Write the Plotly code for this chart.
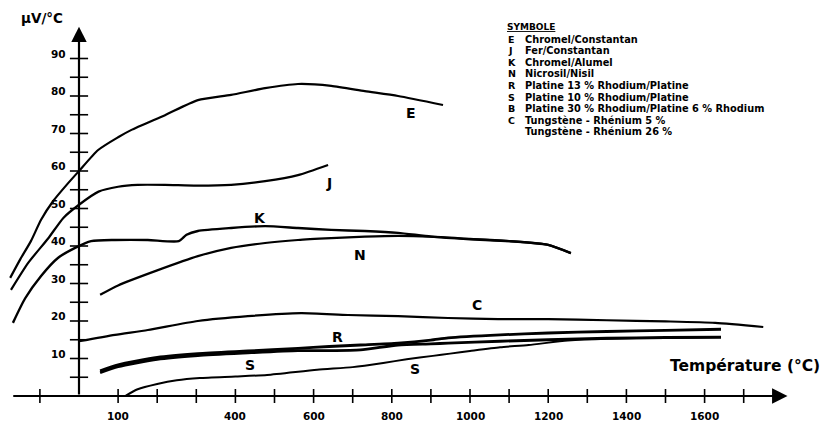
import plotly.graph_objects as go

# ---------------- data ----------------
E_T = [-176, -150, -123, -97, -66, -30, 0, 49, 100, 133, 220, 304, 389, 476, 560, 645, 731, 816, 931]
E_V = [31.5, 36.5, 41.3, 47.0, 52.0, 56.5, 60.0, 65.6, 69.0, 70.9, 74.9, 78.9, 80.3, 82.1, 83.2, 82.7, 81.3, 80.0, 77.6]

J_T = [-174, -130, -79, -40, 0, 50, 100, 150, 220, 300, 389, 476, 560, 637]
J_V = [28.3, 35.5, 42.0, 47.5, 51.0, 54.5, 55.8, 56.3, 56.3, 56.1, 56.3, 57.3, 58.9, 61.6]

K_T = [-169, -138, -97, -54, -10, 31, 92, 176, 255, 275, 304, 389, 476, 560, 645, 731, 816, 900, 1000, 1100, 1200, 1258]
K_V = [19.5, 26.0, 32.0, 36.8, 39.5, 41.3, 41.6, 41.6, 41.3, 43.0, 44.0, 44.8, 45.3, 44.8, 44.3, 44.0, 43.5, 42.5, 41.8, 41.3, 40.3, 38.1]

N_T = [54, 100, 200, 304, 389, 476, 560, 645, 731, 816, 900, 1000, 1100, 1200, 1258]
N_V = [27.0, 29.5, 33.5, 37.3, 39.5, 40.8, 41.6, 42.1, 42.5, 42.7, 42.5, 41.9, 41.3, 40.3, 38.1]

C_T = [0, 92, 176, 304, 432, 568, 688, 816, 944, 1072, 1200, 1350, 1500, 1627, 1750]
C_V = [14.6, 16.3, 17.6, 20.0, 21.3, 22.1, 21.6, 21.3, 20.8, 20.5, 20.5, 20.2, 19.9, 19.5, 18.4]

R_T = [54, 100, 200, 304, 432, 560, 640, 720, 816, 900, 944, 1077, 1200, 1350, 1500, 1642]
R_V = [6.7, 8.3, 10.3, 11.3, 12.0, 12.7, 13.2, 13.6, 14.1, 14.9, 15.5, 16.3, 16.8, 17.2, 17.5, 17.8]

S_T = [54, 100, 200, 304, 432, 560, 640, 720, 816, 900, 944, 1077, 1200, 1350, 1500, 1642]
S_V = [6.2, 7.8, 9.8, 10.8, 11.5, 12.1, 12.1, 12.3, 13.6, 13.9, 14.1, 14.6, 15.0, 15.4, 15.6, 15.7]

B_T = [118, 150, 200, 250, 309, 400, 481, 609, 700, 778, 838, 905, 949, 1000, 1077, 1150, 1250, 1350, 1500, 1642]
B_V = [0.0, 1.8, 3.2, 4.2, 4.8, 5.2, 5.6, 7.0, 7.7, 8.8, 9.8, 10.7, 11.3, 12.0, 13.0, 13.6, 14.8, 15.3, 15.5, 15.6]

X_TICKS = [-100, 100, 200, 300, 400, 500, 600, 700, 800, 900, 1000, 1100, 1200, 1300, 1400, 1500, 1600, 1700]
X_LABELS = [100, 400, 600, 800, 1000, 1200, 1400, 1600]
Y_TICKS = [5, 10, 15, 20, 25, 30, 35, 40, 45, 50, 55, 60, 65, 70, 75, 80, 85, 90]
Y_LABELS = [10, 20, 30, 40, 50, 60, 70, 80, 90]

LEGEND_SYMBOLS = ["E", "J", "K", "N", "R", "S", "B", "C", ""]
LEGEND_NAMES = [
    "Chromel/Constantan",
    "Fer/Constantan",
    "Chromel/Alumel",
    "Nicrosil/Nisil",
    "Platine 13 % Rhodium/Platine",
    "Platine 10 % Rhodium/Platine",
    "Platine 30 % Rhodium/Platine 6 % Rhodium",
    "Tungstène - Rhénium 5 %",
    "Tungstène - Rhénium 26 %",
]

# ---------------- figure ----------------
W, H = 827, 425
X0PX, XPX = 79, 0.391     # pixel of 0 °C, px per °C
Y0PX, YPX = 396, 3.75     # pixel of 0 µV/°C, px per unit
xr = [(0 - X0PX) / XPX, (W - X0PX) / XPX]
yr = [(Y0PX - H) / YPX, Y0PX / YPX]

BOLD = "DejaVu Sans"
fig = go.Figure()

for T, V, w in [(E_T, E_V, 2.2), (J_T, J_V, 2.2), (K_T, K_V, 2.4), (N_T, N_V, 2.2),
                (C_T, C_V, 2.2), (R_T, R_V, 2.8), (S_T, S_V, 2.8), (B_T, B_V, 2.0)]:
    fig.add_trace(go.Scatter(x=T, y=V, mode="lines",
                             line=dict(color="black", width=w, shape="spline", smoothing=0.6),
                             hoverinfo="skip", showlegend=False))

# ticks
fig.add_trace(go.Scatter(x=[0] * len(Y_TICKS), y=Y_TICKS, mode="markers",
                         marker=dict(symbol="line-ew", size=13, line=dict(color="black", width=1.6)),
                         hoverinfo="skip", showlegend=False))
fig.add_trace(go.Scatter(x=X_TICKS, y=[0] * len(X_TICKS), mode="markers",
                         marker=dict(symbol="line-ns", size=10, line=dict(color="black", width=1.6)),
                         hoverinfo="skip", showlegend=False))

ann = []
# axes as arrows
ann.append(dict(x=0, y=98.5, ax=0, ay=0, xref="x", yref="y", axref="x", ayref="y", text="",
                showarrow=True, arrowhead=2, arrowsize=1.4, arrowwidth=2.2, arrowcolor="black", standoff=0))
ann.append(dict(x=1812, y=0, ax=-172, ay=0, xref="x", yref="y", axref="x", ayref="y", text="",
                showarrow=True, arrowhead=2, arrowsize=1.4, arrowwidth=2.2, arrowcolor="black", standoff=0))

# tick labels
for v in Y_LABELS:
    ann.append(dict(x=-28, y=v + 1.3, xref="x", yref="y", text=f"<b>{v}</b>", showarrow=False,
                    xanchor="right", yanchor="middle", font=dict(family=BOLD, size=10.5, color="black")))
for t in X_LABELS:
    ann.append(dict(x=t, y=-5.4, xref="x", yref="y", text=f"<b>{t}</b>", showarrow=False,
                    xanchor="center", yanchor="middle", font=dict(family=BOLD, size=10.5, color="black")))

ann.append(dict(x=-95, y=100.8, xref="x", yref="y", text="<b>µV/°C</b>", showarrow=False,
                xanchor="center", yanchor="middle", font=dict(family=BOLD, size=13.5, color="black")))
ann.append(dict(x=1900, y=7.9, xref="x", yref="y", text="<b>Température (°C)</b>", showarrow=False,
                xanchor="right", yanchor="middle", font=dict(family=BOLD, size=15.5, color="black")))

# curve labels
for txt, T, V in [("E", 850, 75.5), ("J", 640, 56.7), ("K", 462, 47.5), ("N", 718, 37.6),
                  ("C", 1018, 24.4), ("R", 660, 15.7), ("S", 438, 8.3), ("S", 860, 7.2)]:
    ann.append(dict(x=T, y=V, xref="x", yref="y", text=f"<b>{txt}</b>", showarrow=False,
                    xanchor="center", yanchor="middle", font=dict(family=BOLD, size=14, color="black")))

# legend block
ann.append(dict(x=505 / W, y=1 - 27 / H, xref="paper", yref="paper", text="<b><u>SYMBOLE</u></b>", showarrow=False,
                xanchor="left", yanchor="middle", font=dict(family=BOLD, size=9, color="black")))
for i, (s, n) in enumerate(zip(LEGEND_SYMBOLS, LEGEND_NAMES)):
    ypx = 39 + 11.6 * i
    if s:
        ann.append(dict(x=506 / W, y=1 - ypx / H, xref="paper", yref="paper", text=f"<b>{s}</b>", showarrow=False,
                        xanchor="left", yanchor="middle", font=dict(family=BOLD, size=9.5, color="black")))
    ann.append(dict(x=523 / W, y=1 - ypx / H, xref="paper", yref="paper", text=f"<b>{n}</b>", showarrow=False,
                    xanchor="left", yanchor="middle", font=dict(family=BOLD, size=9.8, color="black")))

fig.update_layout(
    width=W, height=H,
    margin=dict(l=0, r=0, t=0, b=0),
    paper_bgcolor="white", plot_bgcolor="white",
    xaxis=dict(range=xr, visible=False, fixedrange=True),
    yaxis=dict(range=yr, visible=False, fixedrange=True),
    annotations=ann,
    showlegend=False,
)

fig.write_html("out.html", config={"displayModeBar": False},
               post_script="document.body.style.margin='0';document.body.style.overflow='hidden';"
                           "document.documentElement.style.overflow='hidden';")
